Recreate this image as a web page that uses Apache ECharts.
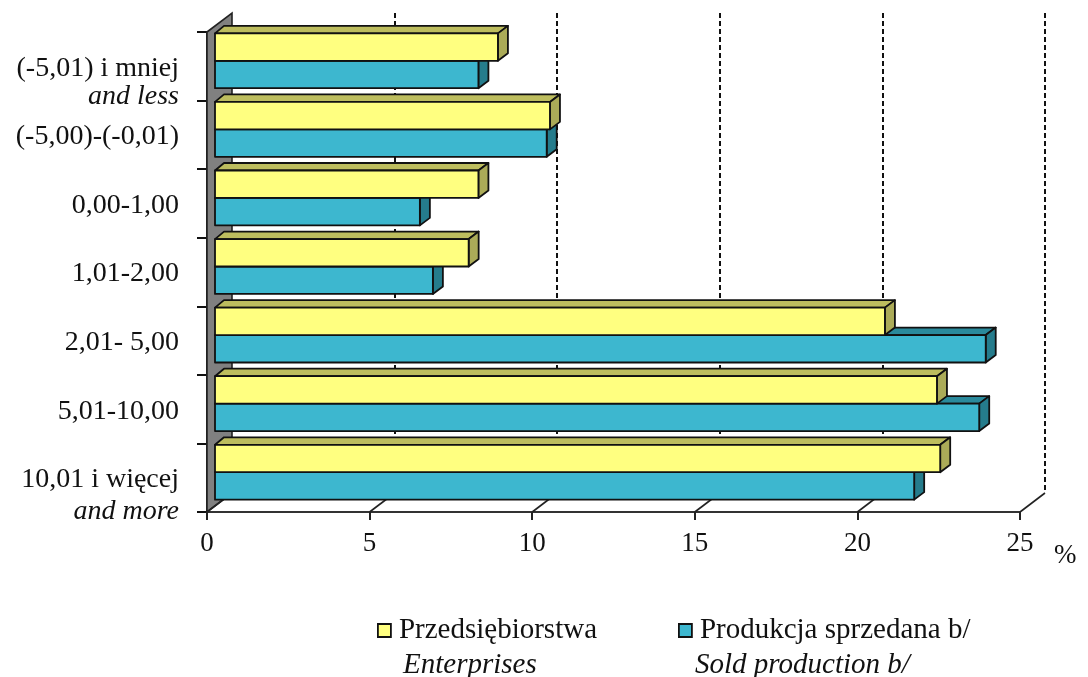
<!DOCTYPE html>
<html><head><meta charset="utf-8">
<style>html,body{margin:0;padding:0;background:#fff}#c{width:1088px;height:677px}</style>
<script src="https://cdn.jsdelivr.net/npm/echarts@6/dist/echarts.min.js"></script>
</head><body><div id="c"></div>
<script>
const categories = ['(-5,01) i mniej|and less','(-5,00)-(-0,01)','0,00-1,00','1,01-2,00','2,01- 5,00','5,01-10,00','10,01 i więcej|and more'];
const enterprises = [8.7,10.3,8.1,7.8,20.6,22.2,22.3];
const soldProduction = [8.1,10.2,6.3,6.7,23.7,23.5,21.5];
const xTicks = [0,5,10,15,20,25];
const seriesNames = ['Przedsiębiorstwa','Produkcja sprzedana b/'];
const seriesNamesEn = ['Enterprises','Sold production b/'];

const FONT = '"Liberation Serif","Times New Roman",serif';
const WALL = [25,-19], BAR_IN = [8,-5.5], BAR_D = [10,-7.5];
const LINE = '#111';
const chart = echarts.init(document.getElementById('c'),null,{renderer:'canvas'});

function bar3d(colors, dir){
  return function(params, api){
    const val = api.value(0), cat = api.value(1);
    const p0 = api.coord([0,cat]), p1 = api.coord([val,cat]);
    const h = api.size([0,1])[1]*0.4;
    const x0 = p0[0]+BAR_IN[0], x1 = p1[0]+BAR_IN[0];
    const cy = p0[1]+BAR_IN[1];
    const y0 = dir<0 ? cy-h : cy, y1 = y0+h;
    const dx = BAR_D[0], dy = BAR_D[1];
    const st = c => ({fill:c, stroke:LINE, lineWidth:1.8, lineJoin:'round'});
    return {type:'group',children:[
      {type:'polygon',shape:{points:[[x0,y0],[x0+dx*0.9,y0+dy],[x1+dx,y0+dy],[x1,y0]]},style:st(colors[1])},
      {type:'polygon',shape:{points:[[x1,y0],[x1+dx,y0+dy],[x1+dx,y1+dy],[x1,y1]]},style:st(colors[2])},
      {type:'rect',shape:{x:x0,y:y0,width:x1-x0,height:h},style:st(colors[0])}
    ]};
  };
}
function catLabel(v, i){
  const s = v.split('|');
  if (s.length < 2) return '{a|'+s[0]+'}';
  return i === categories.length-1
    ? '{e| }\n{a|'+s[0]+'}\n{c|'+s[1]+'}'
    : '{a| }\n{a|'+s[0]+'}\n{b|'+s[1]+'}';
}
chart.setOption({
  animation:false,
  backgroundColor:'#fff',
  textStyle:{fontFamily:FONT},
  grid:[
    {left:207,top:32,width:813,height:480,containLabel:false},
    {left:232,top:13,width:813,height:480}
  ],
  xAxis:[
    {type:'value',gridIndex:0,min:0,max:25,interval:5,splitLine:{show:false},
     axisLine:{show:true,onZero:false,lineStyle:{color:'#333',width:2}},
     axisTick:{show:true,length:8,lineStyle:{color:'#222',width:2}},
     axisLabel:{color:'#111',fontSize:27,fontFamily:FONT,margin:18},
     name:'%',nameLocation:'end',nameGap:34,
     nameTextStyle:{color:'#111',fontSize:27,fontFamily:FONT,verticalAlign:'top',padding:[30,0,0,0]}},
    {type:'value',gridIndex:1,min:0,max:25,interval:5,
     splitLine:{show:true,showMinLine:false,lineStyle:{color:'#111',width:2,type:[5,3]}},
     axisLine:{show:false},axisTick:{show:false},axisLabel:{show:false}}
  ],
  yAxis:[
    {type:'category',gridIndex:0,data:categories,inverse:true,boundaryGap:true,
     axisLine:{show:true,onZero:false,lineStyle:{color:'#222',width:2}},
     axisTick:{show:true,length:10,alignWithLabel:false,lineStyle:{color:'#111',width:2}},
     axisLabel:{margin:28,interval:0,align:'right',formatter:catLabel,padding:[4,0,0,0],
       rich:{a:{fontSize:28,fontFamily:FONT,color:'#111',lineHeight:28,align:'right'},
             b:{fontSize:28,fontFamily:FONT,fontStyle:'italic',color:'#111',lineHeight:27,align:'right'},
             c:{fontSize:28,fontFamily:FONT,fontStyle:'italic',color:'#111',lineHeight:36,align:'right'},
             e:{fontSize:28,fontFamily:FONT,color:'#111',lineHeight:36,align:'right'}}}},
    {type:'value',gridIndex:1,min:0,max:1,show:false}
  ],
  legend:[
    {data:[{name:seriesNames[0],icon:'rect',itemStyle:{color:'#FFFF80',borderColor:'#111',borderWidth:1.8}}],
     left:377,top:616,itemWidth:13,itemHeight:13,itemGap:0,selectedMode:false,padding:0,
     textStyle:{fontSize:29,fontFamily:FONT,color:'#111',padding:[0,0,0,3]}},
    {data:[{name:seriesNames[1],icon:'rect',itemStyle:{color:'#3DB7CF',borderColor:'#111',borderWidth:1.8}}],
     left:678,top:616,itemWidth:13,itemHeight:13,itemGap:0,selectedMode:false,padding:0,
     textStyle:{fontSize:29,fontFamily:FONT,color:'#111',padding:[0,0,0,3]}}
  ],
  graphic:[
    {type:'text',left:403,top:651,style:{text:seriesNamesEn[0],font:'italic 29px '+FONT,fill:'#111'}},
    {type:'text',left:695,top:651,style:{text:seriesNamesEn[1],font:'italic 29px '+FONT,fill:'#111'}}
  ],
  series:[
    {type:'custom',name:'wall',xAxisIndex:0,yAxisIndex:0,silent:true,z:3,
     data:[[0]],encode:{x:0},clip:false,
     renderItem:function(params){
       const r = params.coordSys, x=r.x, y=r.y, b=r.y+r.height;
       return {type:'polygon',shape:{points:[[x,y],[x+WALL[0],y+WALL[1]],[x+WALL[0],b+WALL[1]],[x,b]]},
         style:{fill:'#808080',stroke:'#222',lineWidth:1.6}};
     }},
    {type:'custom',name:'floor',xAxisIndex:0,yAxisIndex:0,silent:true,z:3,
     data:xTicks.map(t=>[t]),encode:{x:0},clip:false,
     renderItem:function(params,api){
       const r = params.coordSys, b=r.y+r.height, x=api.coord([api.value(0),0])[0];
       return {type:'line',shape:{x1:x,y1:b,x2:x+WALL[0],y2:b+WALL[1]},style:{stroke:'#222',lineWidth:1.6}};
     }},
    {type:'custom',name:seriesNames[1],xAxisIndex:0,yAxisIndex:0,z:4,clip:false,
     itemStyle:{color:'#3DB7CF'},encode:{x:0,y:1},
     data:soldProduction.map((v,i)=>[v,i]),
     renderItem:bar3d(['#3DB7CF','#2A8A9C','#257C8C'],1)},
    {type:'custom',name:seriesNames[0],xAxisIndex:0,yAxisIndex:0,z:5,clip:false,
     itemStyle:{color:'#FFFF80'},encode:{x:0,y:1},
     data:enterprises.map((v,i)=>[v,i]),
     renderItem:bar3d(['#FFFF80','#BDBD5E','#ABAB58'],-1)}
  ]
});
</script></body></html>
